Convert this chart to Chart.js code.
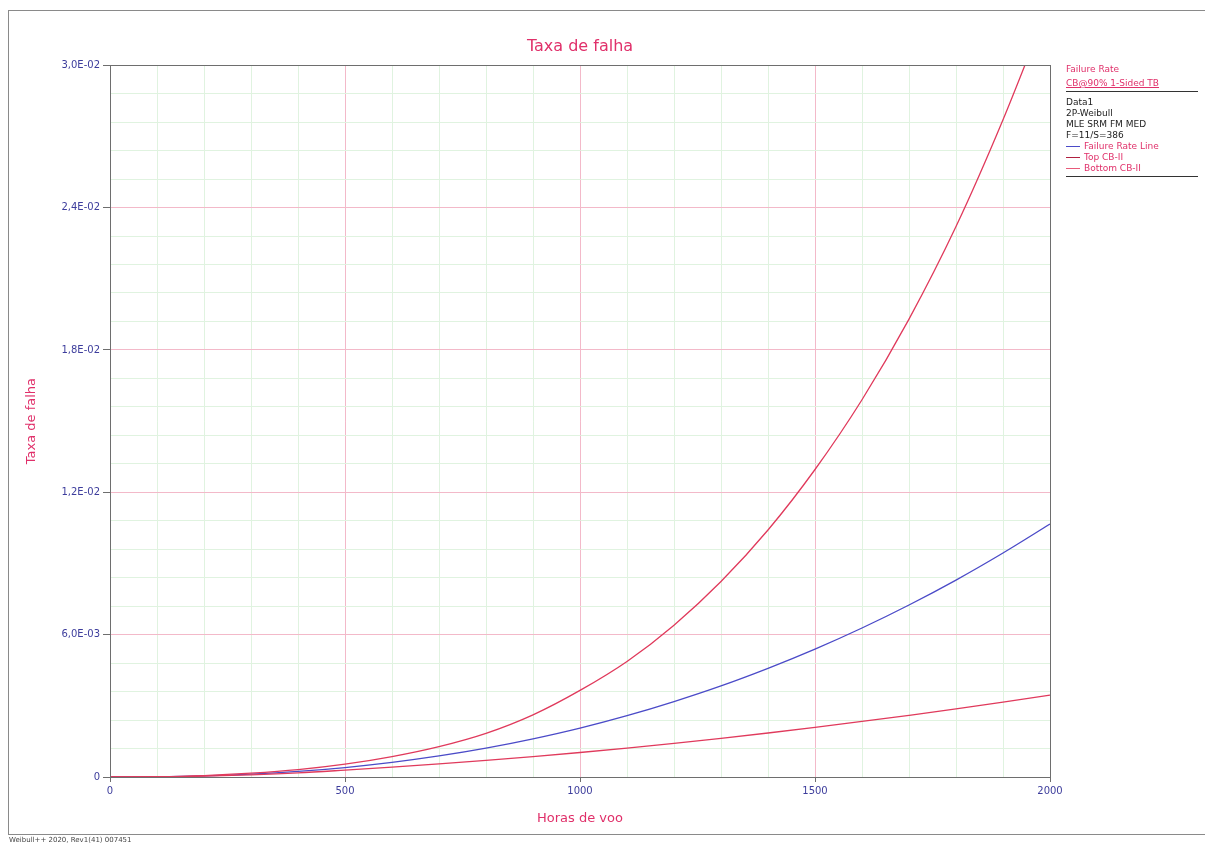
<!DOCTYPE html>
<html>
<head>
<meta charset="utf-8">
<title>Taxa de falha</title>
<script src="https://cdn.jsdelivr.net/npm/chart.js@4.4.1/dist/chart.umd.min.js"></script>
<style>
  body { margin: 0; background: #fff; }
  #wrap { position: relative; width: 1205px; height: 845px; overflow: hidden; }
  #frame { position: absolute; left: 8px; top: 10px; width: 1200px; height: 825px; border: 1px solid #8a8a8a; box-sizing: border-box; }
  #legend { position: absolute; left: 1066px; top: 64px; width: 132px; font: 9px "DejaVu Sans", sans-serif; line-height: 11px; color: #222; }
  #legend .pink { color: #e0306a; }
  #legend .rule { border-bottom: 1px solid #333; margin: 2px 0 5px 0; }
  #legend .item span { display: inline-block; width: 14px; height: 0; border-top: 1px solid; vertical-align: middle; margin-right: 4px; }
  #footer { position: absolute; left: 9px; top: 836px; font: 7px "DejaVu Sans", sans-serif; color: #444; }
</style>
</head>
<body>
<div id="wrap">
  <div id="frame"></div>
  <canvas id="rateChart" width="1205" height="845"></canvas>
  <div id="legend">
    <div class="pink">Failure Rate</div>
    <div class="pink" style="text-decoration: underline; margin-top: 3px;">CB@90% 1-Sided TB</div>
    <div class="rule"></div>
    <div>Data1</div>
    <div>2P-Weibull</div>
    <div>MLE SRM FM MED</div>
    <div>F=11/S=386</div>
    <div class="item pink"><span style="border-color:#4b4bc8"></span>Failure Rate Line</div>
    <div class="item pink"><span style="border-color:#b02040"></span>Top CB-II</div>
    <div class="item pink"><span style="border-color:#e85a7a"></span>Bottom CB-II</div>
    <div class="rule"></div>
  </div>
  <div id="footer">Weibull++ 2020, Rev1(41) 007451</div>
</div>
<script>
// Dados (horas de voo vs taxa de falha)
const hours = [0, 100, 200, 300, 400, 500, 600, 700, 800, 900, 1000,
               1100, 1200, 1300, 1400, 1500, 1600, 1700, 1800, 1900, 2000];
const failureRate = [0, 8.8e-6, 4.55e-5, 1.19e-4, 2.35e-4, 3.99e-4, 6.15e-4, 8.86e-4, 1.215e-3, 1.607e-3, 2.06e-3,
                     2.585e-3, 3.18e-3, 3.84e-3, 4.58e-3, 5.39e-3, 6.28e-3, 7.25e-3, 8.30e-3, 9.44e-3, 1.066e-2];
const topCB = [0, 1.2e-5, 6.0e-5, 1.6e-4, 3.1e-4, 5.4e-4, 8.6e-4, 1.28e-3, 1.84e-3, 2.62e-3, 3.65e-3,
               4.87e-3, 6.40e-3, 8.24e-3, 1.041e-2, 1.296e-2, 1.59e-2, 1.93e-2, 2.32e-2, 2.77e-2, 3.27e-2];
const bottomCB = [0, 5.0e-6, 3.4e-5, 8.8e-5, 1.7e-4, 2.9e-4, 4.2e-4, 5.56e-4, 7.0e-4, 8.6e-4, 1.033e-3,
                  1.22e-3, 1.418e-3, 1.63e-3, 1.855e-3, 2.09e-3, 2.34e-3, 2.60e-3, 2.87e-3, 3.16e-3, 3.45e-3];

// Rótulos dos eixos
const xTickLabels = ['0', '500', '1000', '1500', '2000'];
const yTickLabels = ['0', '6,0E-03', '1,2E-02', '1,8E-02', '2,4E-02', '3,0E-02'];

const PINK = '#e0306a';
const MAJOR_GRID = '#f3b9c9';
const MINOR_GRID = '#e0f3e0';
const AXIS = '#6e6e6e';

function toPoints(values) {
    return hours.map((h, i) => ({ x: h, y: values[i] }));
}

function isMajorY(v) {
    const r = v / 0.006;
    return Math.abs(r - Math.round(r)) < 1e-6;
}

// Moldura completa da área do gráfico
const boxPlugin = {
    id: 'plotBox',
    afterDraw(chart) {
        const { ctx, chartArea: a } = chart;
        ctx.save();
        ctx.strokeStyle = AXIS;
        ctx.lineWidth = 1;
        ctx.strokeRect(Math.round(a.left) + 0.5, Math.round(a.top) + 0.5,
                       Math.round(a.right - a.left), Math.round(a.bottom - a.top));
        ctx.restore();
    }
};

const ctx = document.getElementById('rateChart').getContext('2d');
new Chart(ctx, {
    type: 'line',
    data: {
        datasets: [
            { label: 'Top CB-II', data: toPoints(topCB), borderColor: '#e03a5c', borderWidth: 1.3 },
            { label: 'Bottom CB-II', data: toPoints(bottomCB), borderColor: '#e03a5c', borderWidth: 1.3 },
            { label: 'Failure Rate Line', data: toPoints(failureRate), borderColor: '#4b4bc8', borderWidth: 1.3 }
        ]
    },
    options: {
        responsive: false,
        animation: false,
        layout: { padding: { left: 0, top: 0, right: 155, bottom: 0 } },
        elements: {
            point: { radius: 0 },
            line: { cubicInterpolationMode: 'monotone', fill: false }
        },
        plugins: {
            legend: { display: false },
            tooltip: { enabled: false },
            title: {
                display: true,
                fullSize: false,
                text: 'Taxa de falha',
                color: PINK,
                font: { family: 'DejaVu Sans', size: 16, weight: 'normal' },
                padding: { top: 37, bottom: 9 }
            }
        },
        scales: {
            x: {
                type: 'linear',
                min: 0,
                max: 2000,
                afterFit(scale) { scale.height = 68; },
                ticks: {
                    stepSize: 100,
                    autoSkip: false,
                    maxRotation: 0,
                    padding: 3,
                    color: '#3d3d9c',
                    font: { family: 'DejaVu Sans', size: 10 },
                    callback: v => (v % 500 === 0 ? xTickLabels[v / 500] : '')
                },
                grid: {
                    color: c => (c.tick && c.tick.value % 500 === 0 ? MAJOR_GRID : MINOR_GRID),
                    tickColor: c => (c.tick && c.tick.value % 500 === 0 ? AXIS : 'rgba(0,0,0,0)'),
                    tickLength: 5
                },
                border: { color: AXIS },
                title: {
                    display: true,
                    text: 'Horas de voo',
                    color: PINK,
                    font: { family: 'DejaVu Sans', size: 13 },
                    padding: { top: 0, bottom: 19 }
                }
            },
            y: {
                min: 0,
                max: 0.03,
                afterFit(scale) { scale.width = 110; },
                ticks: {
                    stepSize: 0.0012,
                    autoSkip: false,
                    padding: 3,
                    color: '#3d3d9c',
                    font: { family: 'DejaVu Sans', size: 10 },
                    callback: v => (isMajorY(v) ? yTickLabels[Math.round(v / 0.006)] : '')
                },
                grid: {
                    color: c => (c.tick && isMajorY(c.tick.value) ? MAJOR_GRID : MINOR_GRID),
                    tickColor: c => (c.tick && isMajorY(c.tick.value) ? AXIS : 'rgba(0,0,0,0)'),
                    tickLength: 7
                },
                border: { color: AXIS },
                title: {
                    display: true,
                    text: 'Taxa de falha',
                    color: PINK,
                    font: { family: 'DejaVu Sans', size: 13 },
                    padding: { top: 24, bottom: 0 }
                }
            }
        }
    },
    plugins: [boxPlugin]
});
</script>
</body>
</html>
